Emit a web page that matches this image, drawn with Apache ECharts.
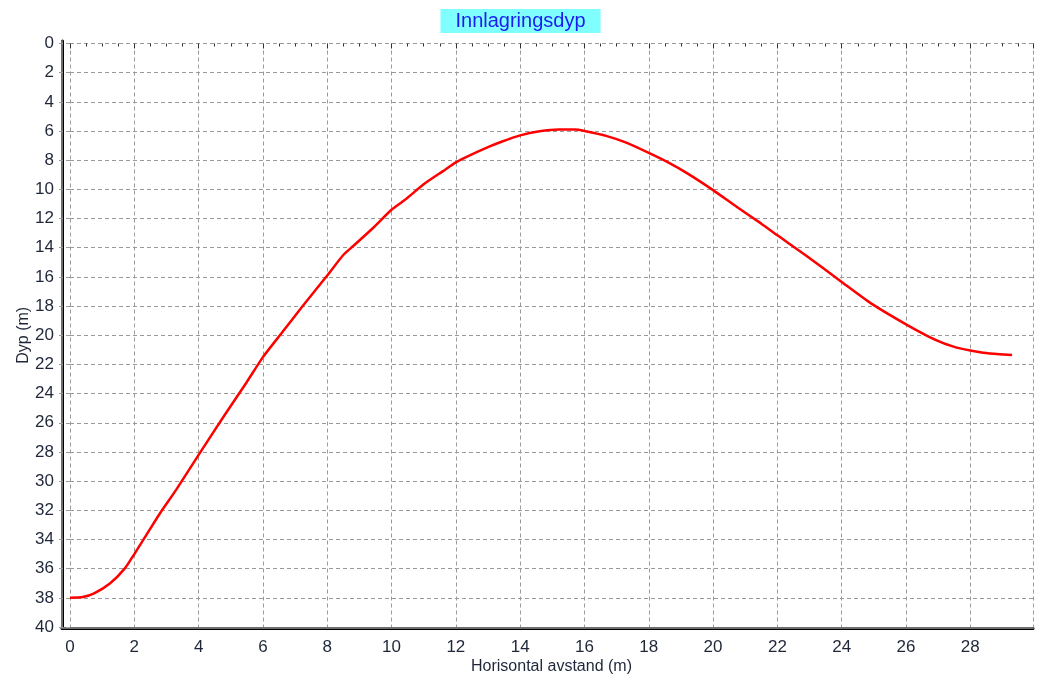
<!DOCTYPE html>
<html>
<head>
<meta charset="utf-8">
<title>Innlagringsdyp</title>
<script src="https://cdn.jsdelivr.net/npm/echarts@6/dist/echarts.min.js"></script>
<style>
  html, body { margin: 0; padding: 0; background: #ffffff; }
  #chart { width: 1041px; height: 679px; }
</style>
</head>
<body>
<div id="chart"></div>
<script>
// Horizontal distance (m) and depth (m) along the curve
const distance = [0, 0.4, 0.75, 1.25, 1.7, 2.0, 2.4, 2.8, 3.3, 4.0, 4.8, 5.5, 6.0, 6.6, 7.2,
  8.0, 8.5, 8.8, 9.4, 10.0, 10.4, 11.0, 11.6, 12.0, 12.4, 13.0, 13.4, 14.0, 14.6, 15.2,
  15.7, 16.0, 16.7, 17.3, 18.0, 18.6, 19.2, 20.0, 20.8, 21.5, 22.0, 22.9, 24.0, 24.9,
  26.0, 26.9, 27.5, 28.0, 28.4, 28.9, 29.3];
const depth = [38.0, 37.95, 37.7, 37.0, 36.0, 35.0, 33.6, 32.2, 30.6, 28.2, 25.5, 23.2, 21.5,
  19.8, 18.1, 15.9, 14.5, 13.9, 12.7, 11.4, 10.75, 9.65, 8.75, 8.15, 7.7, 7.1, 6.75, 6.3, 6.02,
  5.9, 5.9, 6.0, 6.35, 6.8, 7.5, 8.15, 8.9, 10.05, 11.3, 12.35, 13.15, 14.55, 16.35, 17.8, 19.25,
  20.3, 20.8, 21.05, 21.2, 21.3, 21.35];

const titleText = 'Innlagringsdyp';
const xName = 'Horisontal avstand (m)';
const yName = 'Dyp (m)';

const points = distance.map((d, i) => [d, depth[i]]);

const labelColor = '#1e2638';
const gridLine = { show: true, lineStyle: { color: '#9a9a9a', width: 1, type: [4, 3] } };
const noMarks = { axisLabel: { show: false }, axisTick: { show: false }, splitLine: { show: false } };

const chart = echarts.init(document.getElementById('chart'), null, { renderer: 'canvas' });
chart.setOption({
  backgroundColor: '#ffffff',
  animation: false,
  title: {
    text: titleText,
    left: 'center',
    top: 9,
    backgroundColor: '#80ffff',
    padding: [2, 15, 2, 15],
    textStyle: { color: '#1c1cf0', fontSize: 20, fontWeight: 'normal', fontFamily: 'Liberation Sans, Arial, sans-serif' }
  },
  grid: [
    // outer frame
    { left: 62, right: 8, top: 41, bottom: 51, outerBoundsMode: 'none', containLabel: false },
    // plotting area (starts at 0 on both axes)
    { left: 70, right: 8, top: 43.5, bottom: 52, outerBoundsMode: 'none', containLabel: false }
  ],
  xAxis: [
    Object.assign({ type: 'value', gridIndex: 0, position: 'bottom', min: 0, max: 1,
      axisLine: { show: true, lineStyle: { color: '#000000', width: 3 } } }, noMarks),
    Object.assign({ type: 'value', gridIndex: 0, position: 'top', min: 0, max: 1,
      axisLine: { show: true, lineStyle: { color: '#6e6e6e', width: 2 } } }, noMarks),
    {
      type: 'value', gridIndex: 1, min: 0, max: 29.95, interval: 2,
      name: xName, nameLocation: 'middle', nameGap: 32, nameMoveOverlap: false,
      nameTextStyle: { color: labelColor, fontSize: 16, fontFamily: 'Liberation Sans, Arial, sans-serif' },
      axisLine: { show: false },
      axisTick: { show: true, inside: false, length: 5, lineStyle: { color: '#333333', width: 1 } },
      minorTick: { show: true, splitNumber: 4, length: 3, lineStyle: { color: '#333333', width: 1 } },
      axisLabel: { show: true, margin: 12, showMaxLabel: false, color: labelColor, fontSize: 17,
        fontFamily: 'Liberation Sans, Arial, sans-serif' },
      splitLine: gridLine
    }
  ],
  yAxis: [
    Object.assign({ type: 'value', gridIndex: 0, position: 'left', min: 0, max: 1,
      axisLine: { show: true, lineStyle: { color: '#000000', width: 3 } } }, noMarks),
    Object.assign({ type: 'value', gridIndex: 0, position: 'right', min: 0, max: 1,
      axisLine: { show: true, lineStyle: { color: '#6e6e6e', width: 2 } } }, noMarks),
    {
      type: 'value', gridIndex: 1, inverse: true, min: 0, max: 40, interval: 2,
      name: yName, nameLocation: 'middle', nameGap: 38, nameRotate: 90, nameMoveOverlap: false,
      nameTextStyle: { color: labelColor, fontSize: 16, fontFamily: 'Liberation Sans, Arial, sans-serif' },
      axisLine: { show: false },
      axisTick: { show: true, inside: false, length: 12, lineStyle: { color: '#9a9a9a', width: 1, type: [4, 3] } },
      axisLabel: { show: true, margin: 16, color: labelColor, fontSize: 17,
        fontFamily: 'Liberation Sans, Arial, sans-serif' },
      splitLine: gridLine
    }
  ],
  series: [{
    type: 'line',
    xAxisIndex: 2,
    yAxisIndex: 2,
    data: points,
    smooth: 0.2,
    symbol: 'none',
    lineStyle: { color: '#ff0000', width: 2.5 }
  }]
});
</script>
</body>
</html>
